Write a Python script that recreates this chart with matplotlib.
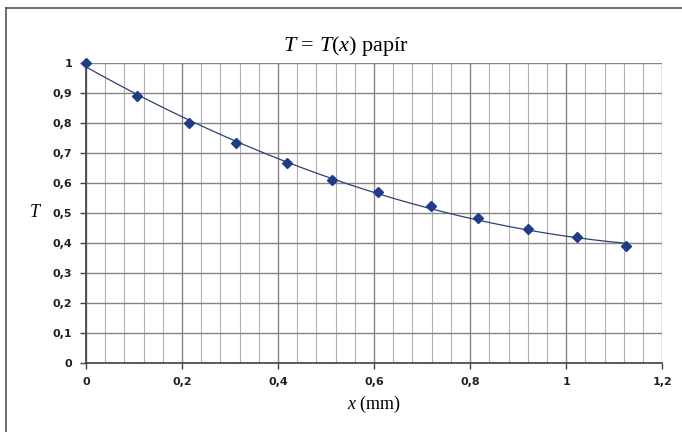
import numpy as np
import matplotlib
matplotlib.use('Agg')
from matplotlib import pyplot as plt
from matplotlib.ticker import MultipleLocator

plt.rcParams['mathtext.fontset'] = 'custom'
plt.rcParams['mathtext.rm'] = 'Liberation Serif'
plt.rcParams['mathtext.it'] = 'Liberation Serif:italic'

# measured points, x in mm
x = [0, 0.106, 0.214, 0.312, 0.418, 0.512, 0.608, 0.719, 0.816, 0.920, 1.023, 1.125]
T = [1.0, 0.889, 0.800, 0.731, 0.667, 0.608, 0.569, 0.522, 0.482, 0.446, 0.419, 0.388]

fig = plt.figure(figsize=(6.82, 4.32), dpi=100)
ax = fig.add_axes([0.126, 0.160, 0.845, 0.695])

# outer chart border (only top and left visible)
fig.add_artist(plt.Line2D([0.009, 0.009], [0, 0.981], transform=fig.transFigure, color='#555555', lw=1.2))
fig.add_artist(plt.Line2D([0.009, 1], [0.981, 0.981], transform=fig.transFigure, color='#555555', lw=1.2))

# 2nd order polynomial trendline
coef = np.polyfit(x, T, 2)
xs = np.linspace(0, max(x), 200)
ax.plot(xs, np.polyval(coef, xs), color='#2c4070', lw=0.9, zorder=3)
ax.plot(x, T, ls='none', marker='D', ms=5.5, color='#1f3c88', zorder=4, clip_on=False)

ax.set_xlim(0, 1.2)
ax.set_ylim(0, 1)
ax.xaxis.set_major_locator(MultipleLocator(0.2))
ax.xaxis.set_minor_locator(MultipleLocator(0.04))
ax.yaxis.set_major_locator(MultipleLocator(0.1))
ax.grid(which='major', color='#858585', lw=1.0)
ax.xaxis.grid(which='minor', color='#b0b0b0', lw=0.8)
ax.set_axisbelow(True)

for s in ['top', 'right']:
    ax.spines[s].set_visible(False)
for s in ['left', 'bottom']:
    ax.spines[s].set_color('#404040')
    ax.spines[s].set_linewidth(1.2)

ax.tick_params(which='major', length=4, width=1, color='#404040', labelsize=8, pad=6)
ax.tick_params(axis='x', which='minor', length=0)

def fmt(v):
    s = ('%.1f' % v).rstrip('0').rstrip('.')
    return s.replace('.', ',')

ax.set_xticks(np.arange(0, 1.21, 0.2))
ax.set_xticklabels([fmt(v) for v in np.arange(0, 1.21, 0.2)], fontweight='bold', color='#222222')
ax.set_yticks(np.arange(0, 1.01, 0.1))
ax.set_yticklabels([fmt(v) for v in np.arange(0, 1.01, 0.1)], fontweight='bold', color='#222222')

fig.text(0.508, 0.893, r'$T$ = $T$($x$) papír', fontsize=16, family='Liberation Serif',
         ha='center', va='center')
ax.set_xlabel(r'$x$ (mm)', fontsize=13, family='Liberation Serif', labelpad=5)
ax.set_ylabel(r'$T$', fontsize=13, family='Liberation Serif', rotation=0, labelpad=12, va='center')

fig.savefig('out.png', dpi=100)
